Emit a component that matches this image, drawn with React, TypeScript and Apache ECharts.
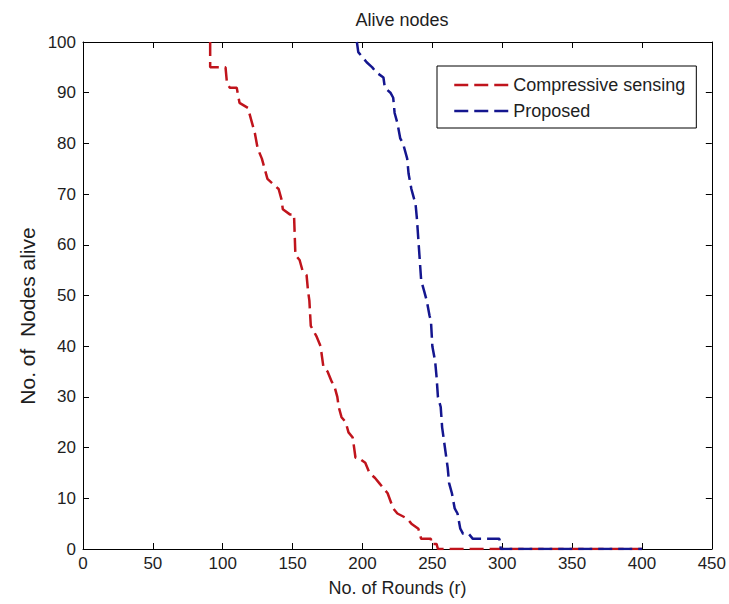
import React, { useEffect, useRef } from "react";
import * as echarts from "echarts";

const chartTitle = "Alive nodes";
const xAxisTitle = "No. of Rounds (r)";
const yAxisTitle = "No. of  Nodes alive";
const seriesNames = ["Compressive sensing", "Proposed"];

const xMin = 0;
const xMax = 450;
const xStep = 50;
const yMin = 0;
const yMax = 100;
const yStep = 10;

const csRounds = [91, 91, 102, 103, 105, 110, 112, 118, 121, 123, 125, 128, 130, 132, 136, 140, 142, 143, 148, 151, 152, 155, 157, 160, 161, 162, 163, 165, 167, 170, 171, 172, 175, 178, 180, 182, 183, 185, 188, 190, 193, 195, 197, 202, 205, 209, 212, 215, 218, 222, 225, 232, 235, 240, 242, 249, 249, 253, 254, 400];
const csAlive = [100, 95, 95, 92, 91, 91, 88, 87, 84, 82, 79, 77, 75, 73, 72, 71, 69, 67, 66, 66, 58, 57, 55, 54, 51, 49, 44, 43, 42, 40, 38, 36, 35, 33, 32, 30, 28, 26, 25, 23, 22, 18, 18, 17, 15, 14, 13, 12, 11, 8, 7, 6, 5, 4, 2, 2, 1, 1, 0, 0];

const propRounds = [196, 197, 200, 203, 207, 210, 215, 216, 220, 222, 223, 225, 227, 229, 232, 233, 235, 236, 238, 239, 240, 241, 242, 244, 246, 248, 249, 250, 252, 253, 254, 256, 257, 258, 260, 261, 262, 264, 266, 268, 270, 272, 276, 279, 298, 299, 400];
const propAlive = [100, 98, 97, 96, 95, 94, 93, 91, 90, 89, 86, 84, 81, 80, 77, 74, 71, 70, 68, 65, 61, 57, 53, 51, 49, 46, 45, 40, 37, 34, 30, 28, 24, 22, 18, 16, 13, 11, 8, 7, 4, 3, 3, 2, 2, 0, 0];

const FONT = "'Liberation Sans', Arial, sans-serif";
const TXT = "#1e1e1e";

export default function App() {
  const ref = useRef<HTMLDivElement>(null);
  useEffect(() => {
    if (!ref.current) return;
    const chart = echarts.init(ref.current, undefined, { renderer: "svg" });
    const pair = (xs: number[], ys: number[]) => xs.map((x, i) => [x, ys[i]]);
    const axisLine = { show: true, onZero: false, lineStyle: { color: "#000", width: 1 } };
    const tick = { show: true, inside: true, length: 6, lineStyle: { color: "#000", width: 1 } };
    const labelStyle = { color: TXT, fontSize: 17, fontFamily: FONT };
    chart.setOption({
      animation: false,
      backgroundColor: "#fff",
      textStyle: { fontFamily: FONT },
      title: {
        text: chartTitle,
        left: 397,
        textAlign: "center",
        top: 6,
        textStyle: { fontSize: 18, fontWeight: "normal", color: TXT, fontFamily: FONT },
      },
      grid: { left: 83, right: 17, top: 42, bottom: 55 },
      legend: {
        orient: "vertical",
        left: 437,
        top: 66,
        width: 262,
        padding: [10, 11, 8, 16],
        itemGap: 8,
        itemWidth: 54,
        itemHeight: 18,
        backgroundColor: "#fff",
        borderColor: "#000",
        borderWidth: 1,
        itemStyle: { opacity: 0 },
        lineStyle: { width: 2.5, type: [14, 6] },
        textStyle: { fontSize: 18, color: TXT, fontFamily: FONT },
        data: seriesNames,
      },
      xAxis: [
        {
          type: "value",
          min: xMin,
          max: xMax,
          interval: xStep,
          position: "bottom",
          axisLine,
          axisTick: tick,
          splitLine: { show: false },
          axisLabel: { ...labelStyle, margin: 6 },
          name: xAxisTitle,
          nameLocation: "middle",
          nameGap: 30,
          nameTextStyle: { fontSize: 18, color: TXT, fontFamily: FONT },
        },
        {
          type: "value",
          min: xMin,
          max: xMax,
          interval: xStep,
          position: "top",
          axisLine,
          axisTick: tick,
          splitLine: { show: false },
          axisLabel: { show: false },
        },
      ],
      yAxis: [
        {
          type: "value",
          min: yMin,
          max: yMax,
          interval: yStep,
          position: "left",
          axisLine,
          axisTick: tick,
          splitLine: { show: false },
          axisLabel: { ...labelStyle, margin: 7 },
        },
        {
          type: "value",
          min: yMin,
          max: yMax,
          interval: yStep,
          position: "right",
          axisLine,
          axisTick: tick,
          splitLine: { show: false },
          axisLabel: { show: false },
        },
      ],
      graphic: [
        {
          type: "text",
          x: 27,
          y: 316,
          rotation: Math.PI / 2,
          style: {
            text: yAxisTitle,
            fontSize: 21,
            fontFamily: FONT,
            fill: TXT,
            align: "center",
            verticalAlign: "middle",
          },
        },
      ],
      series: [
        {
          name: seriesNames[0],
          type: "line",
          data: pair(csRounds, csAlive),
          symbol: "none",
          showSymbol: false,
          color: "#c0141c",
          lineStyle: { color: "#c0141c", width: 2.5, type: [14, 6] },
          z: 3,
        },
        {
          name: seriesNames[1],
          type: "line",
          data: pair(propRounds, propAlive),
          symbol: "none",
          showSymbol: false,
          color: "#14168f",
          lineStyle: { color: "#14168f", width: 2.5, type: [14, 6] },
          z: 3,
        },
      ],
    });
    return () => chart.dispose();
  }, []);
  return (
    <div
      ref={ref}
      style={{ position: "fixed", left: 0, top: 0, width: 729, height: 604, background: "#fff" }}
    />
  );
}
